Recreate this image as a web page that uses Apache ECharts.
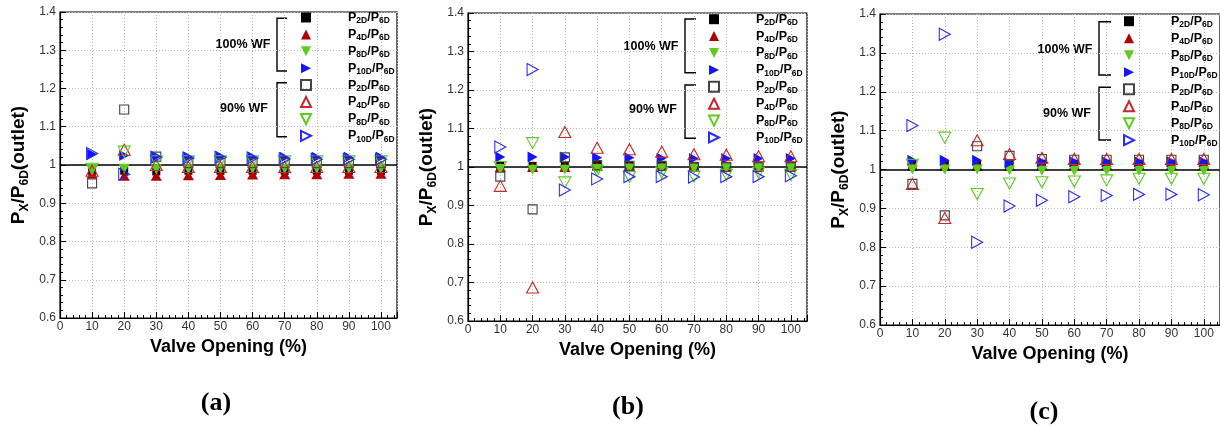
<!DOCTYPE html>
<html><head><meta charset="utf-8">
<script src="https://cdn.jsdelivr.net/npm/echarts@6/dist/echarts.min.js"></script>
<style>html,body{margin:0;padding:0;background:#fff}#c{width:1220px;height:426px}</style>
</head><body><div id="c"></div>
<script>
// ---------------- DATA ----------------
const valveOpening = [10, 20, 30, 40, 50, 60, 70, 80, 90, 100];
const xMin = 0, xMax = 105, xStep = 10;
const yMin = 0.6, yMax = 1.4, yStep = 0.1;
const wfGroups = ['100% WF', '90% WF'];
const ratioSubs = ['2D', '4D', '8D', '10D'];
const panelLabels = ['(a)', '(b)', '(c)'];
const xAxisTitle = 'Valve Opening (%)';

// panel (a)
const a_WF100_P2D  = [0.985, 0.985, 0.983, 0.985, 0.985, 0.985, 0.985, 0.985, 0.985, 0.985];
const a_WF100_P4D  = [0.978, 0.972, 0.972, 0.973, 0.974, 0.975, 0.976, 0.976, 0.977, 0.977];
const a_WF100_P8D  = [0.990, 0.990, 0.989, 0.989, 0.990, 0.990, 0.990, 0.990, 0.990, 0.990];
const a_WF100_P10D = [1.028, 1.025, 1.022, 1.021, 1.022, 1.021, 1.020, 1.020, 1.020, 1.020];
const a_WF90_P2D   = [0.952, 1.145, 1.022, 1.005, 1.005, 1.005, 1.005, 1.005, 1.005, 1.005];
const a_WF90_P4D   = [0.985, 1.040, 1.000, 0.995, 0.995, 0.995, 0.995, 0.995, 0.995, 0.995];
const a_WF90_P8D   = [0.990, 1.035, 1.010, 1.010, 1.010, 1.010, 1.010, 1.010, 1.010, 1.010];
const a_WF90_P10D  = [1.030, 0.976, 1.020, 1.018, 1.020, 1.018, 1.016, 1.015, 1.015, 1.015];

// panel (b)
const b_WF100_P2D  = [1.003, 1.003, 1.003, 1.005, 1.005, 1.004, 1.003, 1.003, 1.004, 1.004];
const b_WF100_P4D  = [1.000, 1.000, 1.000, 1.003, 1.003, 1.003, 1.002, 1.002, 1.003, 1.003];
const b_WF100_P8D  = [0.995, 0.993, 0.993, 0.995, 0.996, 0.996, 0.996, 0.997, 0.997, 0.997];
const b_WF100_P10D = [1.026, 1.026, 1.026, 1.024, 1.024, 1.023, 1.022, 1.022, 1.022, 1.022];
const b_WF90_P2D   = [0.975, 0.890, 1.025, 1.005, 1.003, 1.003, 1.000, 1.000, 1.000, 1.000];
const b_WF90_P4D   = [0.951, 0.687, 1.091, 1.050, 1.046, 1.040, 1.033, 1.032, 1.028, 1.028];
const b_WF90_P8D   = [1.000, 1.062, 0.960, 0.990, 0.974, 0.985, 0.975, 0.980, 0.985, 0.980];
const b_WF90_P10D  = [1.052, 1.253, 0.940, 0.969, 0.975, 0.975, 0.974, 0.975, 0.975, 0.977];

// panel (c)
const c_WF100_P2D  = [1.012, 1.013, 1.013, 1.013, 1.015, 1.015, 1.015, 1.015, 1.015, 1.015];
const c_WF100_P4D  = [1.010, 1.010, 1.010, 1.010, 1.012, 1.012, 1.012, 1.012, 1.012, 1.012];
const c_WF100_P8D  = [1.000, 1.000, 1.000, 0.998, 0.997, 0.997, 0.997, 0.997, 0.997, 0.997];
const c_WF100_P10D = [1.024, 1.024, 1.024, 1.017, 1.020, 1.020, 1.020, 1.020, 1.020, 1.020];
const c_WF90_P2D   = [0.963, 0.882, 1.060, 1.035, 1.027, 1.025, 1.025, 1.025, 1.025, 1.025];
const c_WF90_P4D   = [0.963, 0.875, 1.075, 1.040, 1.030, 1.027, 1.027, 1.027, 1.027, 1.027];
const c_WF90_P8D   = [1.012, 1.082, 0.937, 0.964, 0.967, 0.969, 0.972, 0.976, 0.976, 0.976];
const c_WF90_P10D  = [1.113, 1.348, 0.813, 0.906, 0.921, 0.930, 0.933, 0.936, 0.936, 0.935];

const panelData = [
  [a_WF100_P2D, a_WF100_P4D, a_WF100_P8D, a_WF100_P10D, a_WF90_P2D, a_WF90_P4D, a_WF90_P8D, a_WF90_P10D],
  [b_WF100_P2D, b_WF100_P4D, b_WF100_P8D, b_WF100_P10D, b_WF90_P2D, b_WF90_P4D, b_WF90_P8D, b_WF90_P10D],
  [c_WF100_P2D, c_WF100_P4D, c_WF100_P8D, c_WF100_P10D, c_WF90_P2D, c_WF90_P4D, c_WF90_P8D, c_WF90_P10D]
];

// ---------------- STYLE / LAYOUT ----------------
const FONT = 'Liberation Sans';
const DOWN = 'path://M0,0L10,0L5,10Z';
const RIGHT = 'path://M0,0L10,5L0,10Z';
const markerStyles = [
  { symbol: 'rect',     size: [8, 8],   fill: '#000000', stroke: '#000000', bw: 0 },
  { symbol: 'triangle', size: [11, 10], fill: '#b00000', stroke: '#b00000', bw: 0 },
  { symbol: DOWN,       size: [11, 10], fill: '#5ecb1e', stroke: '#5ecb1e', bw: 0 },
  { symbol: RIGHT,      size: [10, 11], fill: '#1414ff', stroke: '#1414ff', bw: 0 },
  { symbol: 'rect',     size: [9, 9],   fill: 'rgba(255,255,255,0)', stroke: '#444444', bw: 1.1 },
  { symbol: 'triangle', size: [12, 11], fill: 'rgba(255,255,255,0)', stroke: '#c82828', bw: 1.1 },
  { symbol: DOWN,       size: [12, 11], fill: 'rgba(255,255,255,0)', stroke: '#5ecb1e', bw: 1.1 },
  { symbol: RIGHT,      size: [11, 12], fill: 'rgba(255,255,255,0)', stroke: '#2a2aff', bw: 1.1 }
];

const layout = [
  { grid: { left: 60,  top: 12, width: 337, height: 306 }, iconX: 305,  legTop: 11.0, gap: 2.4,
    brX: 277, brTick: 287, br1: [18.3, 71], br2: [82.7, 136.7], t1: [243, 45], t2: [244, 108.3], lab: [216, 403] },
  { grid: { left: 468, top: 13, width: 339, height: 308 }, iconX: 713,  legTop: 12.7, gap: 2.4,
    brX: 685, brTick: 696, br1: [19, 72.7], br2: [85, 138.3], t1: [651, 46.7], t2: [653, 110], lab: [628, 407] },
  { grid: { left: 880, top: 14, width: 340, height: 311 }, iconX: 1128, legTop: 14.7, gap: 2.5,
    brX: 1099, brTick: 1111, br1: [21.7, 75], br2: [87.3, 140], t1: [1065, 49.3], t2: [1067, 113.3], lab: [1044, 412] }
];

const seriesNames = [];
wfGroups.forEach(g => ratioSubs.forEach(s => seriesNames.push(g + ' P' + s + '/P6D')));

function legendFmt(name) {
  const idx = seriesNames.indexOf(name);
  const sub = ratioSubs[idx % 4];
  return '{g|}{p|P}{s|' + sub + '}{p|/P}{s|6D}';
}

const grids = [], xAxes = [], yAxes = [], legends = [], series = [], graphics = [];

layout.forEach((L, pi) => {
  grids.push(Object.assign({ show: true, borderColor: '#000', borderWidth: 1.2, backgroundColor: 'transparent' }, L.grid));
  xAxes.push({
    gridIndex: pi, type: 'value', min: xMin, max: xMax, interval: xStep,
    name: xAxisTitle, nameLocation: 'middle', nameGap: 8,
    nameTextStyle: { fontFamily: FONT, fontWeight: 'bold', fontSize: 18, color: '#000' },
    axisLine: { show: true, lineStyle: { color: '#000', width: 1.2 } },
    axisTick: { show: true, inside: true, length: 6, lineStyle: { color: '#000' } },
    minorTick: { show: true, splitNumber: 5, length: 3, lineStyle: { color: '#000' } },
    axisLabel: { fontFamily: FONT, fontSize: 12, color: '#333', margin: 3, showMaxLabel: false },
    splitLine: { show: true, lineStyle: { color: '#bdbdbd', type: [1, 2], width: 1 } }
  });
  yAxes.push({
    gridIndex: pi, type: 'value', min: yMin, max: yMax, interval: yStep,
    name: '{p|P}{s|X}{p|/P}{s|6D}{p|(outlet)}', nameLocation: 'middle', nameGap: 29, nameRotate: 90,
    nameTextStyle: {
      fontFamily: FONT, fontWeight: 'bold', fontSize: 19, color: '#000',
      rich: {
        p: { fontFamily: FONT, fontWeight: 'bold', fontSize: 19, lineHeight: 22, color: '#000' },
        s: { fontFamily: FONT, fontWeight: 'bold', fontSize: 12, lineHeight: 24, verticalAlign: 'bottom', color: '#000' }
      }
    },
    axisLine: { show: true, lineStyle: { color: '#000', width: 1.2 } },
    axisTick: { show: true, inside: true, length: 6, lineStyle: { color: '#000' } },
    minorTick: { show: true, splitNumber: 5, length: 3, lineStyle: { color: '#000' } },
    axisLabel: { fontFamily: FONT, fontSize: 12, color: '#333', margin: 4 },
    splitLine: { show: true, lineStyle: { color: '#bdbdbd', type: [1, 2], width: 1 } }
  });
  legends.push({
    orient: 'vertical', left: L.iconX - 5, top: L.legTop, itemWidth: 10, itemHeight: 10,
    itemGap: L.gap, padding: 0, selectedMode: false, data: seriesNames.slice(),
    formatter: legendFmt,
    textStyle: {
      fontFamily: FONT, fontWeight: 'bold', fontSize: 12.5, color: '#000',
      rich: {
        g: { width: 32 },
        p: { fontFamily: FONT, fontWeight: 'bold', fontSize: 12.5, lineHeight: 14, color: '#000' },
        s: { fontFamily: FONT, fontWeight: 'bold', fontSize: 8.5, lineHeight: 16, verticalAlign: 'bottom', color: '#000' }
      }
    }
  });
  panelData[pi].forEach((vals, si) => {
    const st = markerStyles[si];
    const s = {
      type: 'scatter', name: seriesNames[si], xAxisIndex: pi, yAxisIndex: pi,
      symbol: st.symbol, symbolSize: st.size, symbolKeepAspect: false,
      itemStyle: { color: st.fill, borderColor: st.stroke, borderWidth: st.bw, opacity: 1 },
      data: valveOpening.map((x, k) => [x, vals[k]]),
      z: 3 + si, silent: true, animation: false
    };
    if (si === 0) {
      s.markLine = { silent: true, symbol: 'none', label: { show: false }, animation: false,
        lineStyle: { color: '#000', width: 1.6, type: 'solid' }, data: [{ yAxis: 1 }] };
    }
    series.push(s);
  });
  [L.br1, L.br2].forEach((br, bi) => {
    graphics.push({ type: 'polyline', silent: true,
      shape: { points: [[L.brTick, br[0]], [L.brX, br[0]], [L.brX, br[1]], [L.brTick, br[1]]] },
      style: { stroke: '#000', lineWidth: 1.4, fill: null } });
    const t = bi === 0 ? L.t1 : L.t2;
    graphics.push({ type: 'text', silent: true,
      style: { text: wfGroups[bi], x: t[0], y: t[1], textAlign: 'center', textVerticalAlign: 'middle',
        font: 'bold 12.5px "' + FONT + '"', fill: '#000' } });
  });
  graphics.push({ type: 'text', silent: true,
    style: { text: panelLabels[pi], x: L.lab[0], y: L.lab[1], textAlign: 'center', textVerticalAlign: 'middle',
      font: 'bold 26px "Liberation Serif"', fill: '#000' } });
});

const chart = echarts.init(document.getElementById('c'), null, { renderer: 'canvas' });
chart.setOption({
  backgroundColor: '#fff', animation: false,
  grid: grids, xAxis: xAxes, yAxis: yAxes, legend: legends, series: series, graphic: graphics
});
</script></body></html>
